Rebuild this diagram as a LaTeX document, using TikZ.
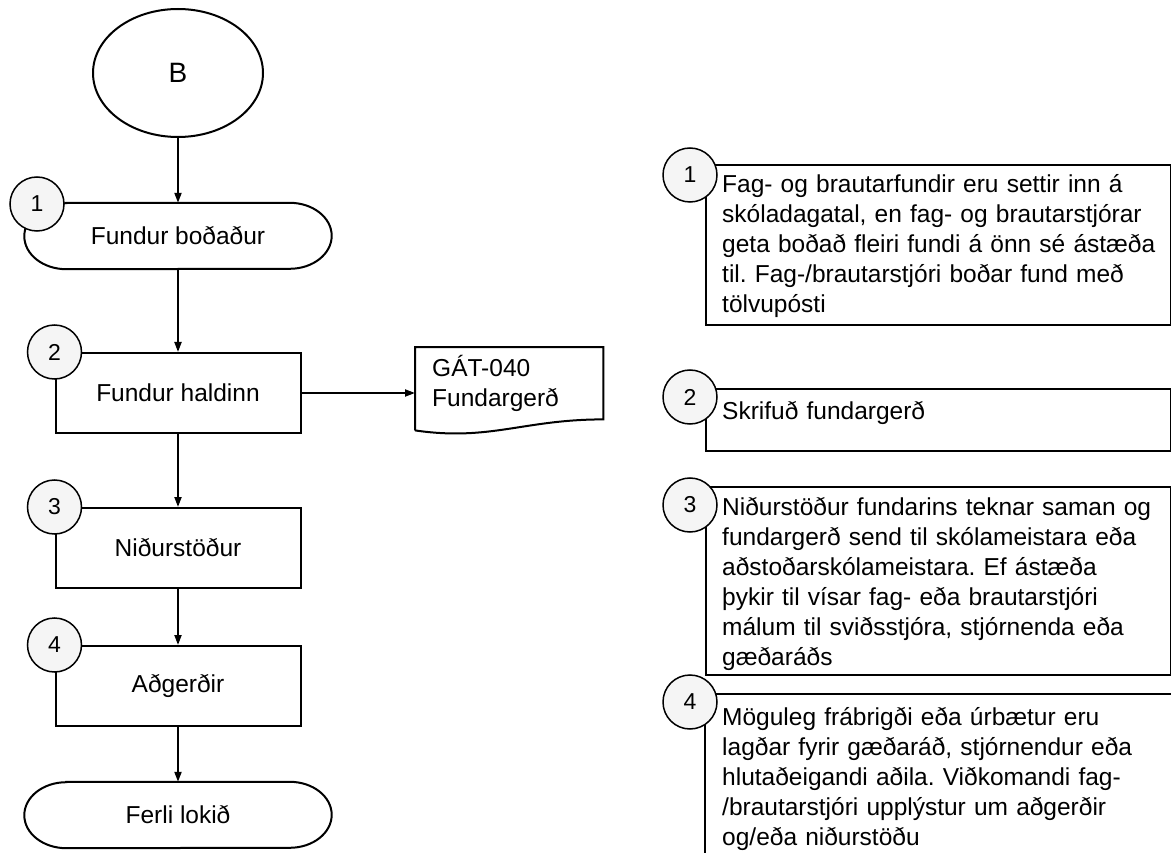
\documentclass[tikz,border=0pt]{standalone}
\usepackage{fontspec}
\setmainfont{Liberation Sans}
\usetikzlibrary{arrows.meta, shapes.geometric}

\begin{document}
\frenchspacing
\begin{tikzpicture}[x=1pt, y=-1pt,
    every node/.style={font=\fontsize{24.5}{30}\selectfont},
    flow/.style={draw, line width=2pt, minimum width=245pt, minimum height=80pt, inner sep=0pt},
    term/.style={minimum width=307pt, minimum height=66pt, inner sep=0pt},
    numcirc/.style={circle, draw, line width=1.5pt, fill=gray!8, minimum size=54pt, inner sep=0pt, font=\fontsize{23}{26}\selectfont},
    note/.style={draw, line width=2pt, anchor=north west, minimum width=465pt, inner sep=0pt},
    notetext/.style={anchor=base west, align=left, text width=445pt, inner sep=0pt},
    arr/.style={line width=2pt, -{Triangle[length=10pt, width=7pt]}}]
    \useasboundingbox (0,0) rectangle (1171,853);

    \node[ellipse, draw, line width=2pt, minimum width=170pt, minimum height=128pt, font=\fontsize{28}{32}\selectfont] (startB) at (178,73) {B};
    \node[term] (meetcall) at (178,236) {Fundur boðaður};
    \node[flow] (meetheld) at (178,393) {Fundur haldinn};
    \node[flow] (results) at (178,548) {Niðurstöður};
    \node[flow] (actions) at (178,686) {Aðgerðir};
    \node[term] (finish) at (178,815) {Ferli lokið};
    \foreach \t in {meetcall, finish}
        \draw[line width=2pt] ([xshift=42pt]\t.north west) -- ([xshift=-42pt]\t.north east)
            arc[start angle=90, end angle=-90, x radius=42pt, y radius=33pt]
            -- ([xshift=42pt]\t.south west)
            arc[start angle=270, end angle=90, x radius=42pt, y radius=33pt] -- cycle;

    \node[anchor=north west, minimum width=188pt, minimum height=72pt, inner xsep=17pt, inner ysep=0pt, align=left, text width=154pt] (minutes) at (415,347) {GÁT-040\\Fundargerð};
    \draw[line width=2pt] ([yshift=-11pt]minutes.south west) -- (minutes.north west) -- (minutes.north east) -- (minutes.south east)
        .. controls ([xshift=-80pt]minutes.south east) and ([xshift=75pt,yshift=-22pt]minutes.south west) .. ([yshift=-11pt]minutes.south west);

    \draw[arr] (startB) -- (meetcall);
    \draw[arr] (meetcall) -- (meetheld);
    \draw[arr] (meetheld.east) -- (meetheld.east -| minutes.west);
    \draw[arr] (meetheld) -- (results);
    \draw[arr] (results) -- (actions);
    \draw[arr] (actions) -- (finish);

    \node[numcirc] (c1) at (37,204) {1};
    \node[numcirc] (c2) at (meetheld.north west) {2};
    \node[numcirc] (c3) at (results.north west) {3};
    \node[numcirc] (c4) at (actions.north west) {4};

    % notes on the right
    \node[note, minimum height=160pt] (note1) at (705,164) {};
    \node[notetext] (note1txt) at (722,193) {Fag- og brautarfundir eru settir inn á\\skóladagatal, en fag- og brautarstjórar\\geta boðað fleiri fundi á önn sé ástæða\\til. Fag-/brautarstjóri boðar fund með\\tölvupósti};
    \node[numcirc] (n1) at (690,175) {1};

    \node[note, minimum height=62pt] (note2) at (705,388) {};
    \node[notetext] (note2txt) at (722,419) {Skrifuð fundargerð};
    \node[numcirc] (n2) at (690,397) {2};

    \node[note, minimum height=188pt] (note3) at (705,486) {};
    \node[notetext] (note3txt) at (722,515) {Niðurstöður fundarins teknar saman og\\fundargerð send til skólameistara eða\\aðstoðarskólameistara. Ef ástæða\\þykir til vísar fag- eða brautarstjóri\\málum til sviðsstjóra, stjórnenda eða\\gæðaráðs};
    \node[numcirc] (n3) at (690,505) {3};

    \draw[line width=2pt] (1171,694) -- (705,694) -- (705,853);
    \node[notetext] (note4txt) at (722,725) {Möguleg frábrigði eða úrbætur eru\\lagðar fyrir gæðaráð, stjórnendur eða\\hlutaðeigandi aðila. Viðkomandi fag-\\/brautarstjóri upplýstur um aðgerðir\\og/eða niðurstöðu};
    \node[numcirc] (n4) at (690,702) {4};
\end{tikzpicture}
\end{document}
